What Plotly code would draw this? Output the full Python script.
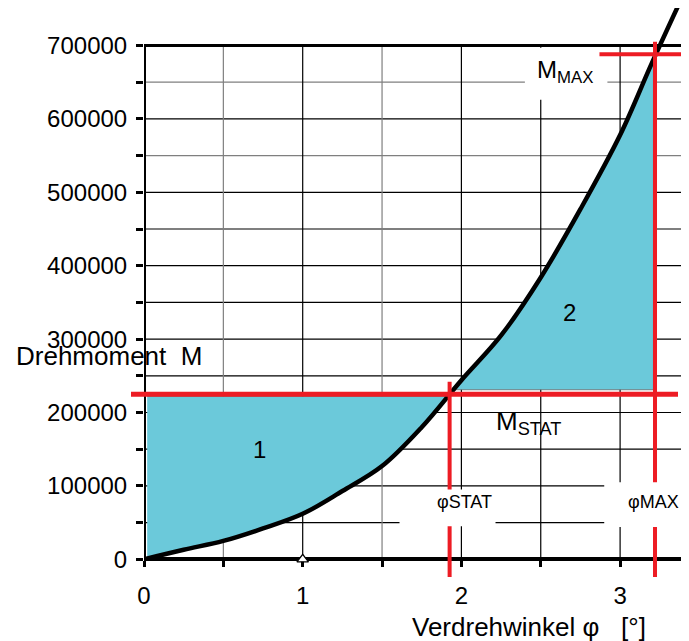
import numpy as np
import plotly.graph_objects as go

# torque curve
phi = [0, 0.25, 0.5, 0.75, 1.0, 1.25, 1.5, 1.75, 2.0, 2.25, 2.5, 2.75, 3.0, 3.2, 3.4]
M = [0, 13000, 25000, 42000, 62000, 93000, 127000, 180000, 244000, 305000, 384000, 477000, 578000, 676000, 770000]

M_stat = 225000
phi_max = 3.22
y_ticks = [0, 100000, 200000, 300000, 400000, 500000, 600000, 700000]
x_ticks = [0, 1, 2, 3]

phi_a = np.array(phi)
M_a = np.array(M)
phi_stat = float(np.interp(M_stat, M_a, phi_a))
M_max = float(np.interp(phi_max, phi_a, M_a))

# page has an 8px body margin -> shrink figure so it fits the window
OFF = 8
W, H = 689 - OFF, 641 - OFF
x0_px, y0_px = 144 - OFF, 559.3 - OFF     # position of (0, 0) inside the figure
px_per_x = 158.7
px_per_y = 73.4 / 100000
x_hi = (W - x0_px) / px_per_x
y_hi = y0_px / px_per_y
y_lo = -(H - y0_px) / px_per_y


def paper_x(px):
    return (px - OFF) / W


def paper_y(py):
    return (H - (py - OFF)) / H


RED = "#ED1C24"
FILL = "#6BC9DA"
FONT = "Liberation Sans, Arial, sans-serif"

fig = go.Figure()

# area 1: below M_stat, above curve
m1 = phi_a < phi_stat
fig.add_trace(go.Scatter(
    x=[0.02] + list(phi_a[m1][1:]) + [phi_stat, 0.02],
    y=[1000] + list(M_a[m1][1:]) + [M_stat - 3000, M_stat - 3000],
    fill="toself", fillcolor=FILL, mode="lines",
    line=dict(color="#666", width=0.8), hoverinfo="skip", showlegend=False))

# area 2: above M_stat, below curve, up to phi_max
low2 = M_stat + 6000
p2 = float(np.interp(low2, M_a, phi_a))
m2 = (phi_a > p2) & (phi_a < phi_max)
fig.add_trace(go.Scatter(
    x=[p2] + list(phi_a[m2]) + [phi_max - 0.01, phi_max - 0.01, p2],
    y=[low2] + list(M_a[m2]) + [M_max, low2, low2],
    fill="toself", fillcolor=FILL, mode="lines",
    line=dict(color="#666", width=0.8), hoverinfo="skip", showlegend=False))

# curve
fig.add_trace(go.Scatter(x=phi, y=M, mode="lines", line=dict(color="black", width=4.5, shape="spline"),
                         showlegend=False, hoverinfo="skip"))

# small marker on the axis
fig.add_trace(go.Scatter(x=[1], y=[0], mode="markers", cliponaxis=False,
                         marker=dict(symbol="triangle-up", size=10, color="white",
                                     line=dict(color="black", width=1.3)),
                         showlegend=False, hoverinfo="skip"))

shapes = []
# grid
gray_y = [550000, 650000]
for v in np.arange(50000, 700000, 50000):
    shapes.append(dict(type="line", layer="below", x0=0, x1=x_hi, y0=v, y1=v,
                       line=dict(color="#7f7f7f" if v in gray_y else "black", width=1.2)))
for v in np.arange(0.5, x_hi, 0.5):
    gray = v in (0.5, 1.5)
    shapes.append(dict(type="line", layer="below", x0=v, x1=v, y0=0, y1=700000,
                       line=dict(color="#7f7f7f" if gray else "black", width=1.2)))
# frame
shapes.append(dict(type="line", x0=0, x1=x_hi, y0=700000, y1=700000, line=dict(color="black", width=3)))
shapes.append(dict(type="line", x0=0, x1=0, y0=0, y1=700000, line=dict(color="black", width=4)))

# red lines
shapes.append(dict(type="line", xref="paper", x0=paper_x(131), x1=paper_x(678), y0=M_stat, y1=M_stat,
                   line=dict(color=RED, width=5)))
shapes.append(dict(type="line", x0=phi_stat, x1=phi_stat, y0=M_stat + 17000, y1=-24000,
                   line=dict(color=RED, width=4)))
shapes.append(dict(type="line", x0=phi_max, x1=phi_max, y0=705000, y1=-24000,
                   line=dict(color=RED, width=4)))

# white label boxes
boxes = [(1.61, 2.215, 45000, 95000), (2.90, x_hi, 44000, 105000), (2.40, 2.92, 626000, 697000)]
for bx0, bx1, by0, by1 in boxes:
    shapes.append(dict(type="rect", x0=bx0, x1=bx1, y0=by0, y1=by1,
                       fillcolor="white", line=dict(width=0)))

shapes.append(dict(type="line", x0=2.87, x1=x_hi, y0=688000, y1=688000,
                   line=dict(color=RED, width=4)))

tick_font = dict(family=FONT, size=24, color="black")
title_font = dict(family=FONT, size=26, color="black")
small_font = dict(family=FONT, size=18, color="black")
annotations = [
    dict(text="Drehmoment  M", xref="paper", x=paper_x(14), xanchor="left", y=277000, yref="y",
         showarrow=False, font=title_font),
    dict(text="1", x=0.725, y=149000, showarrow=False, font=tick_font),
    dict(text="2", x=2.684, y=336000, showarrow=False, font=tick_font),
    dict(text="M<sub>STAT</sub>", x=2.42, y=186000, showarrow=False, font=title_font),
    dict(text="M<sub>MAX</sub>", x=2.65, y=665000, showarrow=False, font=tick_font),
    dict(text="φSTAT", x=2.02, y=78000, showarrow=False, font=small_font),
    dict(text="φMAX", x=3.21, y=78000, showarrow=False, font=small_font),
    dict(text="Verdrehwinkel φ   [°]", xref="paper", x=paper_x(529), xanchor="center",
         y=paper_y(627), yref="paper", yanchor="middle", showarrow=False, font=title_font),
]

fig.update_layout(
    width=W, height=H,
    margin=dict(l=0, r=0, t=0, b=0),
    paper_bgcolor="white", plot_bgcolor="white",
    shapes=shapes, annotations=annotations,
    font=tick_font,
    xaxis=dict(domain=[x0_px / W, 1], range=[0, x_hi], anchor="free", position=(H - y0_px) / H,
               tickvals=x_ticks, ticks="outside", ticklen=6, tickwidth=3, tickcolor="black",
               minor=dict(tickvals=[0.5, 1.5, 2.5], ticks="outside", ticklen=6, tickwidth=3, tickcolor="black"),
               showline=True, linecolor="black", linewidth=4, showgrid=False, zeroline=False,
               layer="below traces",
               ticklabelstandoff=8, tickfont=tick_font, automargin=False, fixedrange=True),
    yaxis=dict(domain=[0, 1], range=[y_lo, y_hi],
               tickvals=y_ticks, ticktext=[str(v) for v in y_ticks],
               ticks="outside", ticklen=7, tickwidth=3, tickcolor="black",
               minor=dict(tickvals=list(range(50000, 700000, 100000)), ticks="outside", ticklen=7,
                          tickwidth=3, tickcolor="black"),
               showline=False, showgrid=False, zeroline=False,
               ticklabelstandoff=4, tickfont=tick_font, automargin=False, fixedrange=True),
)

fig.write_html("out.html")
